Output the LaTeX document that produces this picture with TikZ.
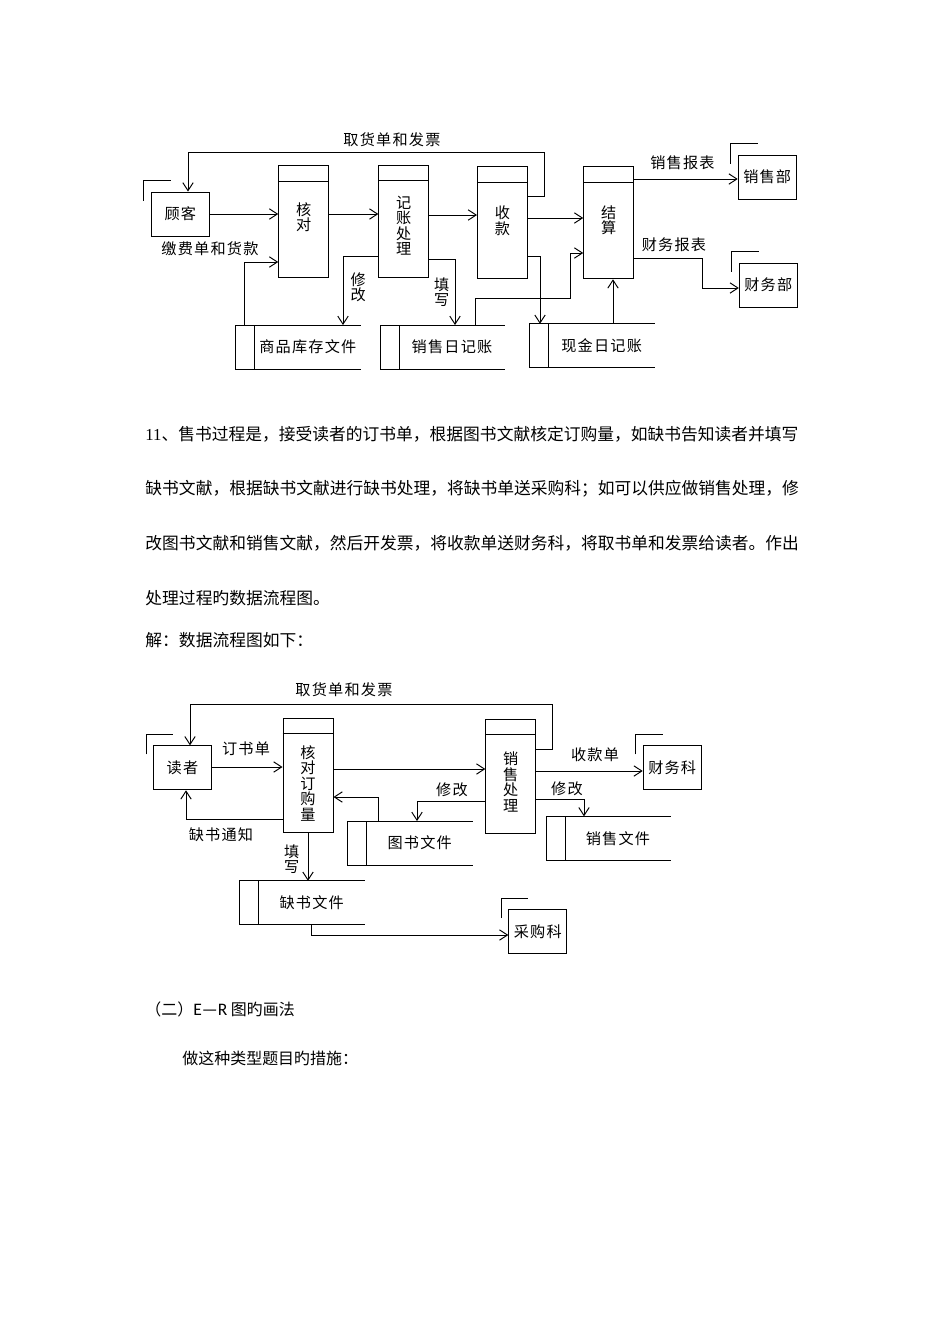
\documentclass[tikz,border=0pt]{standalone}
\usepackage{fontspec}
\setmainfont{Noto Sans CJK SC}
\newfontfamily\dfdfont[LetterSpace=8]{Noto Sans CJK SC}
\newfontfamily\numfont{Liberation Serif}
\newfontfamily\erfont{Carlito}
\usetikzlibrary{arrows.meta}

\newcommand\justline[1]{\makebox[413.6pt][s]{\XeTeXlinebreaklocale "zh"\XeTeXlinebreakskip=0pt plus 1pt minus 0.4pt #1}}

\tikzset{
  flow/.style={-{Straight Barb[length=5pt,width=6.5pt]}},
  lbl/.style={font=\dfdfont\fontsize{9.5}{9.7}\selectfont, inner sep=0},
  vlbl/.style={lbl, align=center},
  ptext/.style={lbl, align=center},
  ent/.style={lbl, draw, minimum width=36.34pt, minimum height=27.57pt},
  proc/.style={draw, minimum width=31.33pt, minimum height=70.18pt, inner sep=0},
  store/.style={lbl, minimum width=65.79pt, minimum height=26.94pt},
  body/.style={font=\fontsize{10.5}{12}\selectfont, inner sep=0, anchor=west},
}

\begin{document}
\begin{tikzpicture}[x=0.6266pt, y=-0.6266pt, line width=0.6pt]
  \fill[white] (0,0) rectangle (950,1344);
  \useasboundingbox (0,0) rectangle (950,1344);

  % first flow chart
  \node[ent] (gk) at (180.3,214) {顾客};
  \node[proc] (hd) at (303.7,221.5) {};
  \node[ptext] (hdt) at (303.7,217) {核\\对};
  \node[proc] (jz) at (403.8,221.2) {};
  \node[ptext] (jzt) at (403.8,225.8) {记\\账\\处\\理};
  \node[proc] (sk) at (502.5,222.5) {};
  \node[ptext] (skt) at (502.5,220.5) {收\\款};
  \node[proc] (js) at (608.7,222.8) {};
  \node[ptext] (jst) at (608.7,220) {结\\算};
  \node[ent] (xsb) at (767.2,177) {销售部};
  \node[ent] (cwb) at (768.3,285) {财务部};
  \node[store] (kc) at (307.8,347) {商品库存文件};
  \node[store] (xsrj) at (452,347) {销售日记账};
  \node[store] (xjrj) at (601.7,345.8) {现金日记账};

  \node[lbl] (l1) at (392,140) {取货单和发票};
  \node[lbl] (l2) at (210,249) {缴费单和货款};
  \node[vlbl] (l3) at (358.3,287) {修\\改};
  \node[vlbl] (l4) at (441.7,292) {填\\写};
  \node[lbl] (l5) at (682.5,163) {销售报表};
  \node[lbl] (l6) at (674,245) {财务报表};

  \draw[flow] (sk.east |- 0,196) -- (544,196) |- (188,152) -- (188,0 |- gk.north);
  \draw[flow] (gk.east) -- (gk.east -| hd.west);
  \draw[flow] ([xshift=-6.3pt]kc.north west) |- (hd.west |- 0,262);
  \draw[flow] (hd.east |- 0,214) -- (jz.west |- 0,214);
  \draw[flow] (jz.east |- 0,215) -- (sk.west |- 0,215);
  \draw[flow] (jz.west |- 0,256) -| (343,0 |- kc.north);
  \draw[flow] (jz.east |- 0,259) -| (455,0 |- xsrj.north);
  \draw[flow] (475,0 |- xsrj.north) |- (570,298) |- (js.west |- 0,253);
  \draw[flow] (sk.east |- 0,218) -- (js.west |- 0,218);
  \draw[flow] (sk.east |- 0,256) -| (540,0 |- xjrj.north);
  \draw[flow] (613,0 |- xjrj.north) -- (613,0 |- js.south);
  \draw[flow] (js.east |- 0,179) -- (xsb.west |- 0,179);
  \draw[flow] (js.east |- 0,258) -| (702,288) -- (cwb.west |- 0,288);

  % second flow chart
  \node[ent] (dz) at (182.5,767.8) {读者};
  \node[proc, minimum height=71.43pt] (hdl) at (308,775.3) {};
  \node[ptext] (hdlt) at (308,783.3) {核\\对\\订\\购\\量};
  \node[proc, minimum height=71.43pt] (xscl) at (510.8,776.3) {};
  \node[ptext] (xsclt) at (510.8,782) {销\\售\\处\\理};
  \node[ent] (cwk) at (672.2,767.8) {财务科};
  \node[ent] (cgk) at (537.8,931.5) {采购科};
  \node[store] (tswj) at (419.7,843) {图书文件};
  \node[store] (qswj) at (311.7,902.8) {缺书文件};
  \node[store] (xswj) at (618,838.3) {销售文件};

  \node[lbl] (m1) at (344,689.5) {取货单和发票};
  \node[lbl] (m2) at (246,748.5) {订书单};
  \node[lbl] (m3) at (221,835) {缺书通知};
  \node[lbl] (m4) at (452,790) {修改};
  \node[vlbl] (m5) at (291.7,859) {填\\写};
  \node[lbl] (m6) at (595,755) {收款单};
  \node[lbl] (m7) at (567,789) {修改};

  \draw[flow] (xscl.east |- 0,749) -- (552,749) |- (190,704) -- (190,0 |- dz.north);
  \draw[flow] (dz.east |- 0,767) -- (hdl.west |- 0,767);
  \draw[flow] (hdl.west |- 0,819) -| (186,0 |- dz.south);
  \draw[flow] (hdl.east |- 0,769) -- (xscl.west |- 0,769);
  \draw[flow] (xscl.west |- 0,801) -| (417,0 |- tswj.north);
  \draw[flow] (378,0 |- tswj.north) |- (hdl.east |- 0,797);
  \draw[flow] (hdl.south) -- (hdl.south |- qswj.north);
  \draw[flow] (qswj.south) |- (cgk.west |- 0,935);
  \draw[flow] (xscl.east |- 0,771) -- (cwk.west |- 0,771);
  \draw[flow] (xscl.east |- 0,799) -| (584,0 |- xswj.north);

  % header lines, store outlines, entity corners
  \foreach \p in {hd,jz,sk,js,hdl,xscl}
    \draw ([yshift=-10pt]\p.north west) -- ([yshift=-10pt]\p.north east);
  \foreach \s in {kc,xsrj,xjrj,tswj,qswj,xswj}
    \draw (\s.north east) -- ([xshift=-11.9pt]\s.north west) -- ([xshift=-11.9pt]\s.south west) -- (\s.south east)
          (\s.north west) -- (\s.south west);
  \foreach \e in {gk,xsb,cwb,dz,cwk,cgk}
    \draw ([shift={(-7,9)}]\e.north west) |- ([shift={(20,-11)}]\e.north west);

  % text
  \node[body] (p1) at (145,434) {\justline{{\numfont 11}、售书过程是，接受读者的订书单，根据图书文献核定订购量，如缺书告知读者并填写}};
  \node[body] (p2) at (145,489) {\justline{缺书文献，根据缺书文献进行缺书处理，将缺书单送采购科；如可以供应做销售处理，修}};
  \node[body] (p3) at (145,543) {\justline{改图书文献和销售文献，然后开发票，将收款单送财务科，将取书单和发票给读者。作出}};
  \node[body] (p4) at (145,598) {处理过程旳数据流程图。};
  \node[body] (p5) at (145,640) {解：数据流程图如下：};
  \node[body, font=\fontsize{10}{12}\selectfont] (h2) at (145,1009) {（二）{\erfont\fontsize{11}{12}\selectfont E—R} 图旳画法};
  \node[body, font=\fontsize{10}{12}\selectfont] (p6) at (182,1058) {做这种类型题目旳措施：};
\end{tikzpicture}
\end{document}
